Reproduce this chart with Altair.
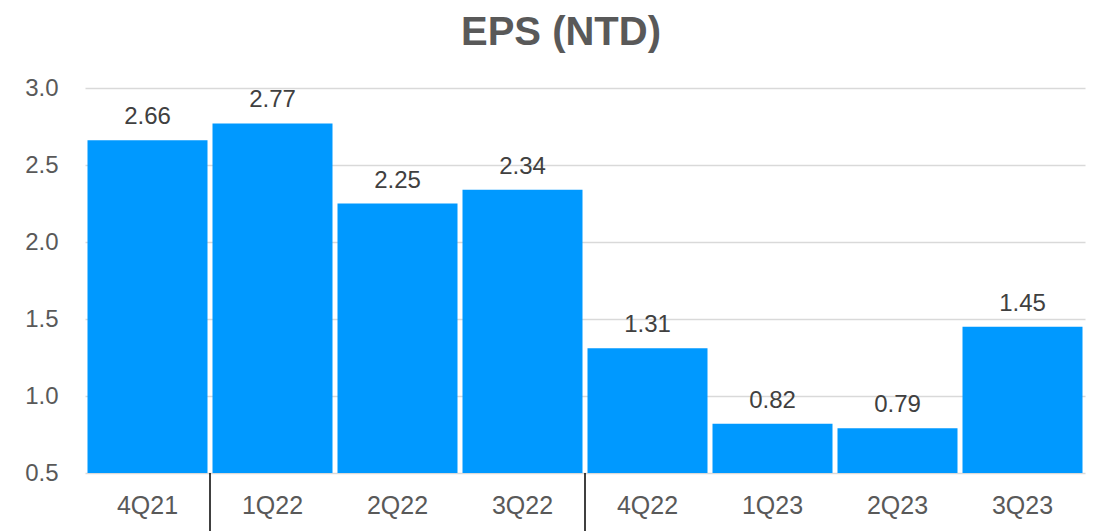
import altair as alt
import pandas as pd

quarters = ["4Q21", "1Q22", "2Q22", "3Q22", "4Q22", "1Q23", "2Q23", "3Q23"]
eps = [2.66, 2.77, 2.25, 2.34, 1.31, 0.82, 0.79, 1.45]
separators = ["1Q22", "4Q22"]

df = pd.DataFrame({"q": quarters, "eps": eps})
sep_df = pd.DataFrame({"q": separators})

FONT = "Liberation Sans"
W, H = 1000, 385

x_enc = alt.X("q:N", sort=quarters,
              scale=alt.Scale(paddingInner=0.04, paddingOuter=0.02),
              axis=alt.Axis(title=None, labelAngle=0, labelFontSize=25, labelColor="#595959",
                            labelFont=FONT, labelPadding=20, ticks=False, domain=False, grid=False))
y_scale = alt.Scale(domain=[0.5, 3.0], zero=False, nice=False)

bars = alt.Chart(df).mark_bar(color="#0099FF").encode(
    x=x_enc,
    y=alt.Y("eps:Q", scale=y_scale,
            axis=alt.Axis(title=None, values=[0.5, 1.0, 1.5, 2.0, 2.5, 3.0], format=".1f",
                          labelFontSize=24, labelColor="#595959", labelFont=FONT,
                          labelPadding=27, ticks=False, domain=False,
                          gridColor="#d9d9d9", gridWidth=1.5)),
    y2=alt.datum(0.5),
)

labels = alt.Chart(df).mark_text(font=FONT, fontSize=24, color="#404040",
                                 baseline="alphabetic", dy=-16).encode(
    x=alt.X("q:N", sort=quarters),
    y=alt.Y("eps:Q", scale=y_scale),
    text=alt.Text("eps:Q", format=".2f"),
)

seps = alt.Chart(sep_df).mark_rule(color="#000000", strokeWidth=1.5, xOffset=-2.5).encode(
    x=alt.X("q:N", sort=quarters, bandPosition=0),
    y=alt.value(H),
    y2=alt.value(H + 60),
)

chart = alt.layer(bars, labels, seps).properties(
    width=W, height=H,
    title=alt.TitleParams("EPS (NTD)", font=FONT, fontSize=40, fontWeight="bold",
                          color="#595959", anchor="middle", dx=-24, offset=23),
    autosize=alt.AutoSizeParams(type="none"),
    padding={"left": 77, "top": 80, "right": 8, "bottom": 58},
).configure_view(stroke=None)

chart.save("out.html", embed_options={"renderer": "svg", "actions": False})
